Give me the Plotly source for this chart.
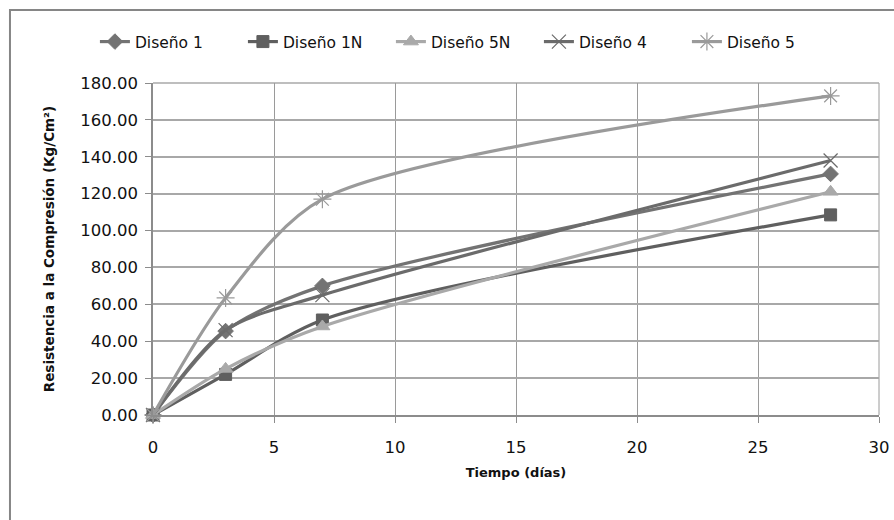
import plotly.graph_objects as go

dias = [0, 3, 7, 28]
diseno_1 = [0.0, 45.5, 70.0, 130.7]
diseno_1n = [0.0, 22.0, 51.5, 108.5]
diseno_5n = [0.0, 25.0, 48.0, 121.0]
diseno_4 = [0.0, 46.0, 65.0, 138.0]
diseno_5 = [0.0, 63.5, 117.0, 173.0]

series = [
    ("Diseño 1", diseno_1, "#737373", "diamond", 12, 1),
    ("Diseño 1N", diseno_1n, "#5f5f5f", "square", 12, 1),
    ("Diseño 5N", diseno_5n, "#a9a9a9", "triangle-up", 13, 1),
    ("Diseño 4", diseno_4, "#6b6b6b", "x-thin-open", 14, 1.2),
    ("Diseño 5", diseno_5, "#9a9a9a", "asterisk-open", 15, 1.2),
]

fig = go.Figure()
for name, vals, col, sym, size, lw in series:
    fig.add_trace(go.Scatter(
        x=dias, y=vals, name=name, mode="lines+markers",
        line=dict(color=col, width=3.2, shape="spline", smoothing=0.8),
        marker=dict(symbol=sym, size=size, color=col, line=dict(color=col, width=lw)),
        cliponaxis=False,
    ))

font = "'DejaVu Sans', sans-serif"
fig.update_layout(
    width=894, height=520,
    margin=dict(l=153, r=15, t=83, b=105, autoexpand=False),
    paper_bgcolor="white", plot_bgcolor="white",
    font=dict(family=font, size=16.5, color="#111"),
    showlegend=True,
    legend=dict(orientation="h", x=-0.08, xanchor="left", y=1.1235, yanchor="middle",
                font=dict(size=15.5), entrywidth=103, entrywidthmode="pixels"),
    xaxis=dict(range=[0, 30], dtick=5, tick0=0, showgrid=True, gridcolor="#9a9a9a", gridwidth=1,
               showline=True, linecolor="#8c8c8c", linewidth=1.5, mirror=False,
               ticks="outside", ticklen=6, tickcolor="#8c8c8c", zeroline=False,
               title=dict(text="<b>Tiempo (días)</b>", font=dict(size=13), standoff=12),
               ticklabelstandoff=10),
    yaxis=dict(range=[0, 180], dtick=20, showgrid=True, gridcolor="#a8a8a8", gridwidth=1.5,
               showline=True, linecolor="#8c8c8c", linewidth=1.5,
               ticks="outside", ticklen=6, tickcolor="#8c8c8c", zeroline=False,
               tickformat=".2f", ticklabelstandoff=4,
               title=dict(text="<b>Resistencia a la Compresión (Kg/Cm²)</b>", font=dict(size=13.5), standoff=22)),
    shapes=[
        dict(type="rect", xref="paper", yref="paper", x0=-0.197, x1=1.2, y0=-0.5, y1=1.22,
             line=dict(color="#868686", width=2), layer="below"),
        dict(type="line", xref="paper", yref="paper", x0=1, x1=1, y0=0, y1=1,
             line=dict(color="#9a9a9a", width=1), layer="below"),
        dict(type="line", xref="paper", yref="paper", x0=0, x1=1, y0=1, y1=1,
             line=dict(color="#a8a8a8", width=1.5), layer="below"),
    ],
)

fig.write_html("out.html")
